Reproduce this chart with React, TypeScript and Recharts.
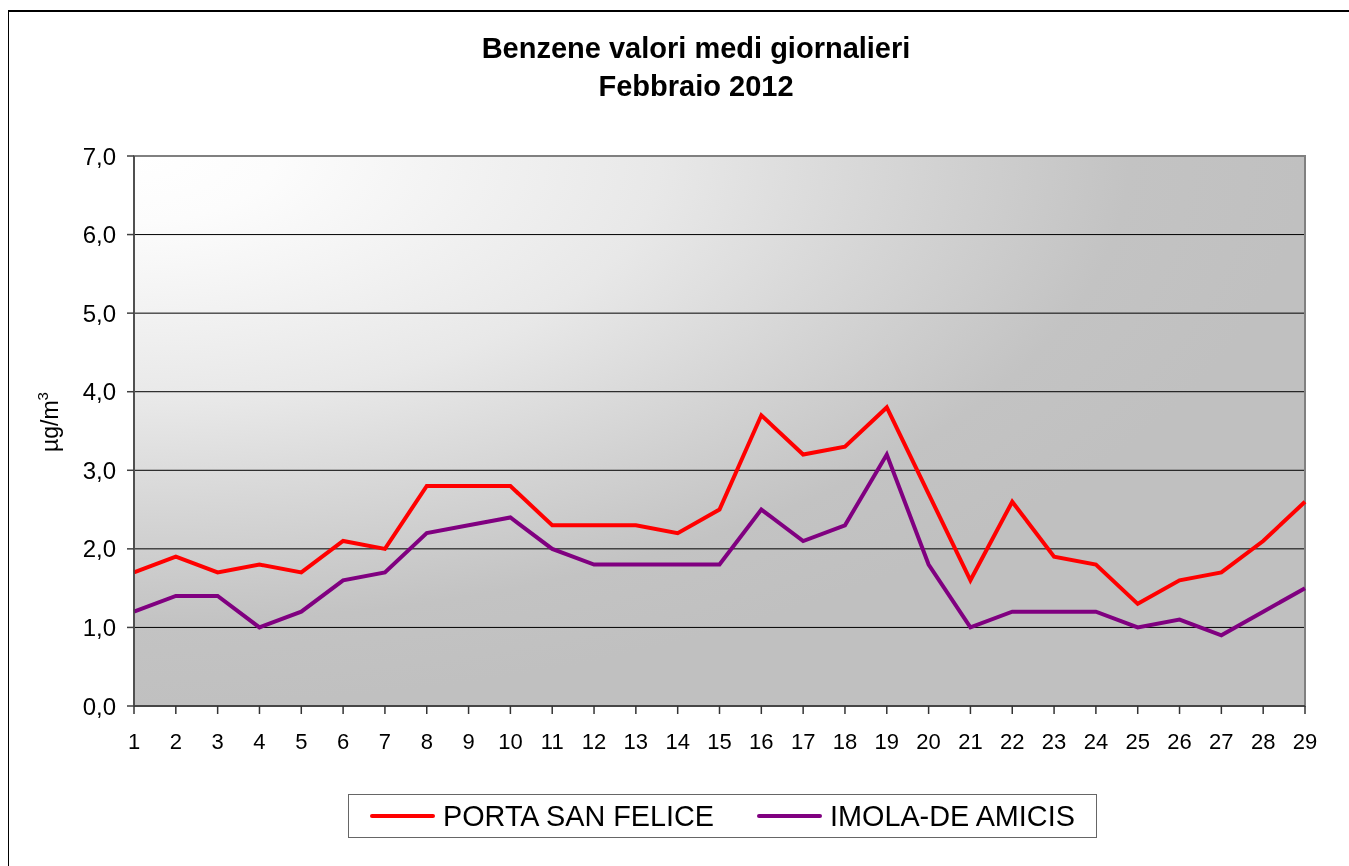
import React from "react";
import {
  LineChart,
  Line,
  XAxis,
  YAxis,
  CartesianGrid,
  Legend,
  ReferenceArea,
} from "recharts";

const days = [
  "1", "2", "3", "4", "5", "6", "7", "8", "9", "10", "11", "12", "13", "14", "15",
  "16", "17", "18", "19", "20", "21", "22", "23", "24", "25", "26", "27", "28", "29",
];

const portaSanFelice = [
  1.7, 1.9, 1.7, 1.8, 1.7, 2.1, 2.0, 2.8, 2.8, 2.8, 2.3, 2.3, 2.3, 2.2, 2.5,
  3.7, 3.2, 3.3, 3.8, 2.7, 1.6, 2.6, 1.9, 1.8, 1.3, 1.6, 1.7, 2.1, 2.6,
];

const imolaDeAmicis = [
  1.2, 1.4, 1.4, 1.0, 1.2, 1.6, 1.7, 2.2, 2.3, 2.4, 2.0, 1.8, 1.8, 1.8, 1.8,
  2.5, 2.1, 2.3, 3.2, 1.8, 1.0, 1.2, 1.2, 1.2, 1.0, 1.1, 0.9, 1.2, 1.5,
];

const yTicks = [0, 1, 2, 3, 4, 5, 6, 7];

const seriesOrder = ["porta", "imola"];

const chartData = days.map((day, i) => ({
  day,
  porta: portaSanFelice[i],
  imola: imolaDeAmicis[i],
}));

const W = 1333;
const H = 850;

// legend item offsets inside the legend box
const LEGEND_X = [21, 408];

const renderLegend = (props: any) => {
  const items = [...(props.payload || [])].sort(
    (a: any, b: any) => seriesOrder.indexOf(a.dataKey) - seriesOrder.indexOf(b.dataKey)
  );
  return (
    <div
      style={{
        position: "relative",
        width: 749,
        height: 44,
        border: "1.5px solid #666",
        boxSizing: "border-box",
        background: "#fff",
      }}
    >
      {items.map((entry: any, i: number) => (
        <div
          key={`legend-${i}`}
          style={{
            position: "absolute",
            left: LEGEND_X[i],
            top: 0,
            height: 41,
            display: "flex",
            alignItems: "center",
            whiteSpace: "nowrap",
          }}
        >
          <span
            style={{
              display: "inline-block",
              width: 65,
              height: 4,
              borderRadius: 2,
              background: entry.color,
              marginRight: 8,
            }}
          />
          <span
            style={{
              display: "inline-block",
              fontSize: 30,
              color: "#000",
              lineHeight: "41px",
              transform: "scaleX(0.96)",
              transformOrigin: "left center",
            }}
          >
            {entry.value}
          </span>
        </div>
      ))}
    </div>
  );
};

const renderYLabel = (props: any) => {
  const vb = props.viewBox || { x: 0, y: 0, width: 0, height: 0 };
  const x = vb.x + 50;
  const y = vb.y + vb.height / 2 - 9;
  return (
    <text
      x={x}
      y={y}
      transform={`rotate(-90, ${x}, ${y})`}
      textAnchor="middle"
      fontSize={23}
      fill="#000"
    >
      µg/m
      <tspan fontSize={15} dy={-10}>
        3
      </tspan>
    </text>
  );
};

export default function App() {
  return (
    <div
      style={{
        position: "relative",
        width: W,
        height: H,
        fontFamily: "'Liberation Sans', Arial, sans-serif",
      }}
    >
      {/* outer chart frame, runs off the right and bottom of the page */}
      <div
        style={{
          position: "fixed",
          left: 8,
          top: 10,
          right: -20,
          bottom: -20,
          borderLeft: "1.5px solid #000",
          borderTop: "2px solid #000",
          pointerEvents: "none",
        }}
      />
      <div
        style={{
          position: "absolute",
          left: 0,
          top: 21,
          width: W,
          paddingLeft: 43,
          boxSizing: "border-box",
          textAlign: "center",
          fontWeight: "bold",
          fontSize: 29,
          lineHeight: "38px",
          color: "#000",
        }}
      >
        Benzene valori medi giornalieri
        <br />
        Febbraio 2012
      </div>

      <LineChart
        width={W}
        height={H}
        data={chartData}
        margin={{ top: 148, right: 36, bottom: 107, left: 0 }}
      >
        <defs>
          <radialGradient id="plotBg" cx="0" cy="0" r="1" fx="0" fy="0">
            <stop offset="0%" stopColor="#ffffff" />
            <stop offset="12%" stopColor="#fcfcfc" />
            <stop offset="45%" stopColor="#e8e8e8" />
            <stop offset="62%" stopColor="#d8d8d8" />
            <stop offset="85%" stopColor="#c3c3c3" />
            <stop offset="100%" stopColor="#c0c0c0" />
          </radialGradient>
        </defs>

        <CartesianGrid
          vertical={false}
          stroke="#000"
          strokeWidth={1}
          fill="url(#plotBg)"
          fillOpacity={1}
        />

        <ReferenceArea
          x1="1"
          x2="29"
          y1={0}
          y2={7}
          fill="none"
          stroke="#808080"
          strokeWidth={2}
          ifOverflow="visible"
        />

        <XAxis
          dataKey="day"
          interval={0}
          height={45}
          tickSize={8}
          tickMargin={19}
          stroke="#333"
          strokeWidth={1.5}
          tick={{ fontSize: 22, fill: "#000" }}
        />

        <YAxis
          domain={[0, 7]}
          ticks={yTicks}
          width={126}
          tickSize={7}
          tickMargin={11}
          stroke="#404040"
          strokeWidth={1.5}
          tick={{ fontSize: 24, fill: "#000" }}
          tickFormatter={(v: number) => v.toFixed(1).replace(".", ",")}
          label={renderYLabel}
        />

        <Legend
          layout="horizontal"
          verticalAlign="middle"
          align="center"
          content={renderLegend}
          wrapperStyle={{ left: 340, top: 786, width: 749, height: 44 }}
        />

        <Line
          type="linear"
          dataKey="porta"
          name="PORTA SAN FELICE"
          stroke="#ff0000"
          strokeWidth={4}
          dot={false}
          activeDot={false}
          isAnimationActive={false}
        />
        <Line
          type="linear"
          dataKey="imola"
          name="IMOLA-DE AMICIS"
          stroke="#800080"
          strokeWidth={4}
          dot={false}
          activeDot={false}
          isAnimationActive={false}
        />
      </LineChart>
    </div>
  );
}
